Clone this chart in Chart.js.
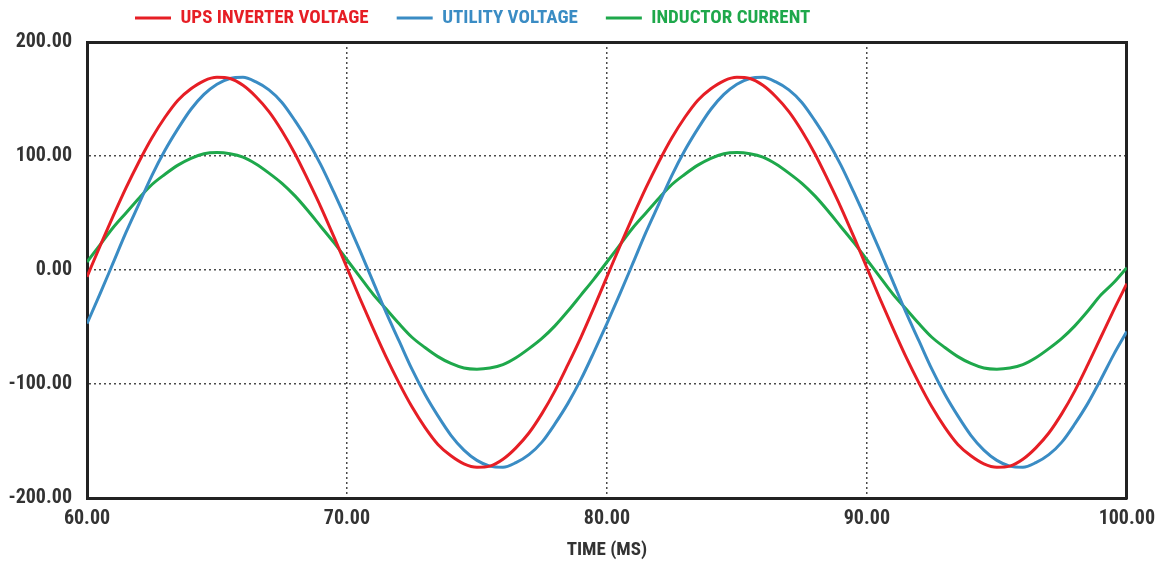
<!DOCTYPE html>
<html><head><meta charset="utf-8">
<script src="https://cdn.jsdelivr.net/npm/chart.js@4.4.0/dist/chart.umd.min.js"></script>
<style>html,body{margin:0;padding:0;background:#fff;}#wrap{width:1164px;height:562px;}</style>
</head><body><div id="wrap"><canvas id="c" width="1164" height="562"></canvas></div>
<script>
const timeMs = [60,60.5,61,61.5,62,62.5,63,63.5,64,64.5,65,65.5,66,66.5,67,67.5,68,68.5,69,69.5,
70,70.5,71,71.5,72,72.5,73,73.5,74,74.5,75,75.5,76,76.5,77,77.5,78,78.5,79,79.5,
80,80.5,81,81.5,82,82.5,83,83.5,84,84.5,85,85.5,86,86.5,87,87.5,88,88.5,89,89.5,
90,90.5,91,91.5,92,92.5,93,93.5,94,94.5,95,95.5,96,96.5,97,97.5,98,98.5,99,99.5,100];
const upsInverterVoltage = [-6,21,47,72,95,116,134,149,159,166,169,168,162,152,139,122,102,79,55,29,
2,-25,-51,-76,-99,-120,-138,-153,-163,-170,-173,-172,-166,-156,-143,-126,-106,-83,-59,-33,
-6,21,47,72,95,116,134,149,159,166,169,168,162,152,139,122,102,79,55,29,
2,-25,-51,-76,-99,-120,-138,-153,-163,-170,-173,-172,-166,-156,-143,-126,-106,-83,-59,-35,-12];
const utilityVoltage = [-47,-21,6,33,58,83,105,124,141,154,163,168,169,165,158,147,131,113,92,68,
43,17,-10,-37,-62,-87,-109,-128,-145,-158,-167,-172,-173,-169,-162,-151,-135,-117,-96,-72,
-47,-21,6,33,58,83,105,124,141,154,163,168,169,165,158,147,131,113,92,68,
43,17,-10,-37,-62,-87,-109,-128,-145,-158,-167,-172,-173,-169,-162,-151,-135,-117,-96,-74,-54];
const inductorCurrent = [7,22,37,50,63,75,84,92,98,102,103,102,99,93,85,76,65,52,38,24,
9,-6,-21,-34,-47,-59,-68,-76,-82,-86,-87,-86,-83,-77,-69,-60,-49,-36,-22,-8,
7,22,37,50,63,75,84,92,98,102,103,102,99,93,85,76,65,52,38,24,
9,-6,-21,-34,-47,-59,-68,-76,-82,-86,-87,-86,-83,-77,-69,-60,-49,-36,-22,-11,2];
const seriesNames = ['UPS INVERTER VOLTAGE','UTILITY VOLTAGE','INDUCTOR CURRENT'];
const seriesColors = ['#e61e25','#3a8cc4','#1ea84b'];
const xTickValues = [60,70,80,90,100];
const yTickValues = [-200,-100,0,100,200];
const xTitle = 'TIME (MS)';

const FONT = "'Liberation Sans Narrow','Roboto Condensed','Liberation Sans',Arial,sans-serif";
const seriesData = [upsInverterVoltage, utilityVoltage, inductorCurrent];

const legendShift = {
  id: 'legendShift',
  afterLayout(chart) {
    const l = chart.legend;
    if (!l) return;
    l.top = -19.5;
    const dx = 107 - l.left; l.left += dx; l.right += dx;
  }
};

const edgeHidden = (edges) => (ctx) => (ctx.tick && edges.includes(ctx.tick.value)) ? 'rgba(0,0,0,0)' : '#4a4a4a';

new Chart(document.getElementById('c'), {
  type: 'line',
  data: {
    labels: timeMs,
    datasets: seriesNames.map((name, i) => ({
      label: name,
      data: seriesData[i],
      borderColor: seriesColors[i],
      backgroundColor: seriesColors[i],
      borderWidth: 3,
      pointRadius: 0,
      cubicInterpolationMode: 'monotone',
      fill: false
    }))
  },
  options: {
    responsive: false,
    animation: false,
    devicePixelRatio: 1,
    layout: { padding: { top: 8, right: 33, bottom: 0, left: 0 } },
    plugins: {
      tooltip: { enabled: false },
      legend: {
        position: 'top',
        align: 'start',
        maxHeight: 34,
        labels: {
          boxWidth: 36,
          boxHeight: 3,
          padding: 28,
          font: { family: FONT, size: 19, weight: 'bold' },
          generateLabels: (chart) => chart.data.datasets.map((ds, i) => ({
            text: ds.label,
            fillStyle: ds.borderColor,
            strokeStyle: ds.borderColor,
            lineWidth: 0,
            fontColor: ds.borderColor,
            hidden: false,
            datasetIndex: i
          }))
        }
      }
    },
    scales: {
      x: {
        type: 'linear', position: 'bottom', min: 60, max: 100,
        afterBuildTicks: (s) => { s.ticks = xTickValues.map(v => ({ value: v })); },
        afterFit: (s) => { s.height = 64; },
        ticks: { callback: (v) => Number(v).toFixed(2), font: { family: FONT, size: 20, weight: 'bold' }, color: '#333', padding: 9, maxRotation: 0, autoSkip: false },
        grid: { drawTicks: false, color: edgeHidden([60, 100]), lineWidth: 1.5 },
        border: { display: true, color: '#222', width: 3, dash: [2, 3] },
        title: { display: true, text: xTitle, font: { family: FONT, size: 19, weight: 'bold' }, color: '#333', padding: { top: 0, bottom: 0 } }
      },
      y: {
        type: 'linear', position: 'left', min: -200, max: 200,
        afterBuildTicks: (s) => { s.ticks = yTickValues.map(v => ({ value: v })); },
        afterFit: (s) => { s.width = 87; },
        ticks: { callback: (v) => Number(v).toFixed(2), font: { family: FONT, size: 20, weight: 'bold' }, color: '#333', padding: 15 },
        grid: { drawTicks: false, color: edgeHidden([-200, 200]), lineWidth: 1.5 },
        border: { display: true, color: '#222', width: 3, dash: [2, 3] }
      },
      x2: {
        type: 'linear', axis: 'x', position: 'top', min: 60, max: 100, display: true,
        ticks: { display: false },
        grid: { display: false, drawTicks: false },
        border: { display: true, color: '#222', width: 3 },
        afterFit: (s) => { s.height = 0; }
      },
      y2: {
        type: 'linear', axis: 'y', position: 'right', min: -200, max: 200, display: true,
        ticks: { display: false },
        grid: { display: false, drawTicks: false },
        border: { display: true, color: '#222', width: 3 },
        afterFit: (s) => { s.width = 0; }
      }
    }
  },
  plugins: [legendShift]
});
</script>
</body></html>
